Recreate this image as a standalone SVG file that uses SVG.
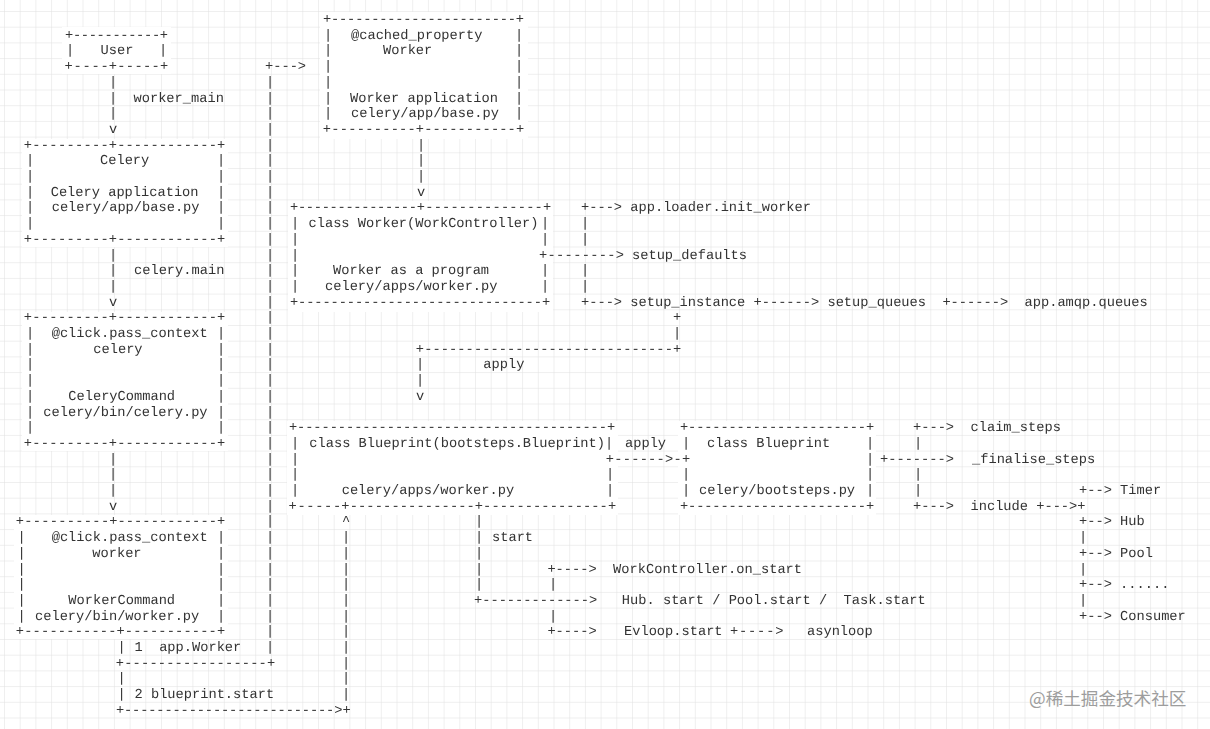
<svg xmlns="http://www.w3.org/2000/svg" width="1210" height="729" viewBox="0 0 1210 729" xml:space="preserve">
<style>
.t{font-family:"Liberation Mono","Courier New",monospace;font-size:13.7px;fill:#333;white-space:pre}
.m{text-anchor:middle}
.bg{fill:#fff}
.wm{font-family:"Noto Sans CJK SC","Noto Sans",sans-serif;font-size:17.6px;fill:#9d9d9d}
</style>
<defs>
<pattern id="grid" width="15.7" height="15.7" x="4" y="11" patternUnits="userSpaceOnUse">
<path d="M15.7 0H0V15.7" fill="none" stroke="#e0e0e0" stroke-width="1"/>
</pattern>
<filter id="gray" x="0" y="0" width="1210" height="729" filterUnits="userSpaceOnUse">
<feOffset dx="0" dy="0"/>
</filter>
</defs>
<rect width="1210" height="729" fill="#fff"/>
<rect width="1210" height="729" fill="url(#grid)"/>

<g filter="url(#gray)" text-rendering="geometricPrecision">
<g id="user">
<rect class="bg" x="62" y="27" width="109" height="47"/>
<text class="t" x="65" y="38.7" textLength="103" lengthAdjust="spacing">+-----------+</text>
<text class="t m" x="70" y="54.4">|</text>
<text class="t m" x="163" y="54.4">|</text>
<text class="t" x="100.5" y="54.4">User</text>
<text class="t" x="64.6" y="70.1" textLength="44" lengthAdjust="spacing">+----</text>
<text class="t" x="108.75" y="70.1" textLength="51" lengthAdjust="spacing">+-----</text>
<text class="t m" x="164" y="70.1">+</text>
</g>

<g id="cached-worker">
<rect class="bg" x="320" y="12" width="208" height="127"/>
<text class="t" x="323" y="23" textLength="201" lengthAdjust="spacing">+-----------------------+</text>
<text class="t m" x="328 328 328 328 328 328" y="38.7 54.4 70.1 85.8 101.5 117.2">||||||</text>
<text class="t m" x="519 519 519 519 519 519" y="38.7 54.4 70.1 85.8 101.5 117.2">||||||</text>
<text class="t" x="351" y="38.7">@cached_property</text>
<text class="t" x="383" y="54.4">Worker</text>
<text class="t" x="350" y="101.5">Worker application</text>
<text class="t" x="351" y="117.2">celery/app/base.py</text>
<text class="t" x="322.8" y="132.9" textLength="93" lengthAdjust="spacing">+----------</text>
<text class="t" x="415.8" y="132.9" textLength="100" lengthAdjust="spacing">+-----------</text>
<text class="t m" x="520" y="132.9">+</text>
</g>

<g id="celery">
<rect class="bg" x="22" y="139" width="206" height="108"/>
<text class="t" x="23.75" y="148.6" textLength="85" lengthAdjust="spacing">+---------</text>
<text class="t" x="108.85" y="148.6" textLength="108" lengthAdjust="spacing">+------------</text>
<text class="t m" x="221" y="148.6">+</text>
<text class="t m" x="30 30 30 30 30" y="164.3 180 195.7 211.4 227.1">|||||</text>
<text class="t m" x="221 221 221 221 221" y="164.3 180 195.7 211.4 227.1">|||||</text>
<text class="t" x="100" y="164.3">Celery</text>
<text class="t" x="50.7" y="195.7">Celery application</text>
<text class="t" x="51.7" y="211.4">celery/app/base.py</text>
<text class="t" x="23.75" y="242.8" textLength="85" lengthAdjust="spacing">+---------</text>
<text class="t" x="108.85" y="242.8" textLength="108" lengthAdjust="spacing">+------------</text>
<text class="t m" x="221" y="242.8">+</text>
</g>

<g id="click-celery">
<rect class="bg" x="22" y="312" width="206" height="139"/>
<text class="t" x="23.75" y="321.3" textLength="85" lengthAdjust="spacing">+---------</text>
<text class="t" x="108.85" y="321.3" textLength="108" lengthAdjust="spacing">+------------</text>
<text class="t m" x="221" y="321.3">+</text>
<text class="t m" x="30 30 30 30 30 30 30" y="337 352.7 368.4 384.1 399.8 415.5 431.2">|||||||</text>
<text class="t m" x="221 221 221 221 221 221 221" y="337 352.7 368.4 384.1 399.8 415.5 431.2">|||||||</text>
<text class="t" x="51.7" y="337">@click.pass_context</text>
<text class="t" x="93.3" y="352.7">celery</text>
<text class="t" x="68.3" y="399.8">CeleryCommand</text>
<text class="t" x="43.3" y="415.5">celery/bin/celery.py</text>
<text class="t" x="23.75" y="446.9" textLength="85" lengthAdjust="spacing">+---------</text>
<text class="t" x="108.85" y="446.9" textLength="108" lengthAdjust="spacing">+------------</text>
<text class="t m" x="221" y="446.9">+</text>
</g>

<g id="click-worker">
<rect class="bg" x="14" y="515" width="214" height="124"/>
<text class="t" x="15.8" y="525.4" textLength="93.3" lengthAdjust="spacing">+----------</text>
<text class="t" x="109.2" y="525.4" textLength="107.7" lengthAdjust="spacing">+------------</text>
<text class="t m" x="221" y="525.4">+</text>
<text class="t m" x="21.5 21.5 21.5 21.5 21.5 21.5" y="541.1 556.8 572.5 588.2 603.9 619.6">||||||</text>
<text class="t m" x="221 221 221 221 221 221" y="541.1 556.8 572.5 588.2 603.9 619.6">||||||</text>
<text class="t" x="51.7" y="541.1">@click.pass_context</text>
<text class="t" x="92.3" y="556.8">worker</text>
<text class="t" x="68.3" y="603.9">WorkerCommand</text>
<text class="t" x="35" y="619.6">celery/bin/worker.py</text>
<text class="t" x="15.8" y="635.3" textLength="100.7" lengthAdjust="spacing">+-----------</text>
<text class="t" x="116.5" y="635.3" textLength="100.3" lengthAdjust="spacing">+-----------</text>
<text class="t m" x="221" y="635.3">+</text>
</g>

<g id="class-worker">
<rect class="bg" x="288" y="201" width="265" height="111"/>
<text class="t" x="290" y="211.4" textLength="127" lengthAdjust="spacing">+---------------</text>
<text class="t" x="416.8" y="211.4" textLength="126" lengthAdjust="spacing">+--------------</text>
<text class="t m" x="547" y="211.4">+</text>
<text class="t m" x="295 295 295 295 295" y="227.1 242.8 258.5 274.2 289.9">|||||</text>
<text class="t m" x="545 545" y="227.1 242.8">||</text>
<text class="t m" x="545 545" y="274.2 289.9">||</text>
<text class="t" x="308.5" y="227.1">class Worker(WorkController)</text>
<text class="t" x="333" y="274.2">Worker as a program</text>
<text class="t" x="325" y="289.9">celery/apps/worker.py</text>
<text class="t" x="289.9" y="305.6" textLength="252" lengthAdjust="spacing">+------------------------------</text>
<text class="t m" x="546" y="305.6">+</text>
</g>

<g id="blueprint">
<rect class="bg" x="287" y="421" width="331" height="94"/>
<text class="t" x="288.9" y="431.2" textLength="326.2" lengthAdjust="spacing">+--------------------------------------+</text>
<text class="t m" x="295 295 295 295" y="446.9 462.6 478.3 494">||||</text>
<text class="t m" x="609" y="446.9">|</text>
<text class="t m" x="610 610" y="478.3 494">||</text>
<text class="t" x="309.3" y="446.9">class Blueprint(bootsteps.Blueprint)</text>
<text class="t" x="341.7" y="494">celery/apps/worker.py</text>
<text class="t" x="288.6" y="509.7" textLength="52.5" lengthAdjust="spacing">+-----</text>
<text class="t" x="341.3" y="509.7" textLength="133.5" lengthAdjust="spacing">+---------------</text>
<text class="t" x="474.8" y="509.7" textLength="133" lengthAdjust="spacing">+---------------</text>
<text class="t m" x="612" y="509.7">+</text>
</g>

<g id="bootsteps-blueprint">
<rect class="bg" x="678" y="421" width="198" height="94"/>
<text class="t" x="680" y="431.2" textLength="194.1" lengthAdjust="spacing">+----------------------+</text>
<text class="t m" x="686" y="446.9">|</text>
<text class="t m" x="686 686" y="478.3 494">||</text>
<text class="t m" x="870 870 870 870" y="446.9 462.6 478.3 494">||||</text>
<text class="t" x="707" y="446.9">class Blueprint</text>
<text class="t" x="699" y="494">celery/bootsteps.py</text>
<text class="t" x="680" y="509.7" textLength="194.1" lengthAdjust="spacing">+----------------------+</text>
</g>

<g id="connectors">
<text class="t m" x="113 113 113" y="85.8 101.5 117.2">|||</text>
<text class="t m" x="113" y="132.9">v</text>
<text class="t" x="133.5" y="101.5">worker_main</text>
<text class="t m" x="113 113 113" y="258.5 274.2 289.9">|||</text>
<text class="t m" x="113" y="305.6">v</text>
<text class="t" x="134" y="274.2">celery.main</text>
<text class="t m" x="113 113 113" y="462.6 478.3 494">|||</text>
<text class="t m" x="113" y="509.7">v</text>
<text class="t" x="265" y="70.1">+---&gt;</text>
<text class="t m" x="270 270 270 270 270 270 270 270 270 270 270 270 270 270 270 270 270 270 270 270 270 270 270 270 270 270 270 270 270 270 270 270 270 270 270 270" y="85.8 101.5 117.2 132.9 148.6 164.3 180 195.7 211.4 227.1 242.8 258.5 274.2 289.9 305.6 321.3 337 352.7 368.4 384.1 399.8 415.5 431.2 446.9 462.6 478.3 494 509.7 525.4 541.1 556.8 572.5 588.2 603.9 619.6 635.3">||||||||||||||||||||||||||||||||||||</text>
<text class="t m" x="270" y="651">|</text>
<text class="t m" x="121.5" y="651">|</text>
<text class="t" x="134.5" y="651">1  app.Worker</text>
<text class="t" x="115.8" y="666.7" textLength="159.4" lengthAdjust="spacing">+-----------------+</text>
<text class="t m" x="121.5 121.5" y="682.4 698.1">||</text>
<text class="t" x="134.5" y="698.1">2 blueprint.start</text>
<text class="t" x="115.96" y="713.8" textLength="226.4" lengthAdjust="spacing">+--------------------------&gt;</text>
<text class="t m" x="346.5" y="713.8">+</text>
<text class="t m" x="346" y="525.4">^</text>
<text class="t m" x="346 346 346 346 346 346 346 346 346 346 346" y="541.1 556.8 572.5 588.2 603.9 619.6 635.3 651 666.7 682.4 698.1">|||||||||||</text>
<text class="t m" x="421 421 421" y="148.6 164.3 180">|||</text>
<text class="t m" x="421" y="195.7">v</text>
<text class="t" x="581" y="211.4">+---&gt; app.loader.init_worker</text>
<text class="t m" x="585 585" y="227.1 242.8">||</text>
<text class="t m" x="585 585" y="274.2 289.9">||</text>
<text class="t" x="539" y="258.5" textLength="85" lengthAdjust="spacing">+--------&gt;</text>
<text class="t" x="632" y="258.5">setup_defaults</text>
<text class="t" x="581" y="305.6">+---&gt; setup_instance +------&gt; setup_queues  +------&gt;  app.amqp.queues</text>
<text class="t m" x="677" y="321.3">+</text>
<text class="t m" x="677" y="337">|</text>
<text class="t" x="415.85" y="352.7" textLength="265.3" lengthAdjust="spacing">+------------------------------+</text>
<text class="t m" x="420 420" y="368.4 384.1">||</text>
<text class="t" x="483.3" y="368.4">apply</text>
<text class="t m" x="420" y="399.8">v</text>
<text class="t" x="625" y="446.9">apply</text>
<text class="t" x="605.8" y="462.6" textLength="84.4" lengthAdjust="spacing">+------&gt;-+</text>
<text class="t" x="913" y="431.2">+---&gt;  claim_steps</text>
<text class="t m" x="918" y="446.9">|</text>
<text class="t m" x="918 918" y="478.3 494">||</text>
<text class="t" x="880" y="462.6">+-------&gt;</text>
<text class="t" x="972" y="462.6">_finalise_steps</text>
<text class="t" x="913" y="509.7">+---&gt;  include +---&gt;+</text>
<text class="t" x="1079" y="494">+--&gt; Timer</text>
<text class="t" x="1079" y="525.4">+--&gt; Hub</text>
<text class="t m" x="1083" y="541.1">|</text>
<text class="t" x="1079" y="556.8">+--&gt; Pool</text>
<text class="t m" x="1083" y="572.5">|</text>
<text class="t" x="1079" y="588.2">+--&gt; ......</text>
<text class="t m" x="1083" y="603.9">|</text>
<text class="t" x="1079" y="619.6">+--&gt; Consumer</text>
<text class="t m" x="479 479 479 479 479" y="525.4 541.1 556.8 572.5 588.2">|||||</text>
<text class="t" x="492" y="541.1">start</text>
<text class="t" x="547.4" y="572.5">+----&gt;  WorkController.on_start</text>
<text class="t m" x="553" y="588.2">|</text>
<text class="t" x="474" y="603.9">+-------------&gt;   Hub. start / Pool.start /  Task.start</text>
<text class="t m" x="553" y="619.6">|</text>
<text class="t" x="547.4" y="635.3">+----&gt;</text>
<text class="t" x="624" y="635.3">Evloop.start</text>
<text class="t" x="730" y="635.3" textLength="53.4" lengthAdjust="spacing">+----&gt;</text>
<text class="t" x="807" y="635.3">asynloop</text>
</g>
</g>

<text class="wm" x="1029" y="705">@稀土掘金技术社区</text>
</svg>
